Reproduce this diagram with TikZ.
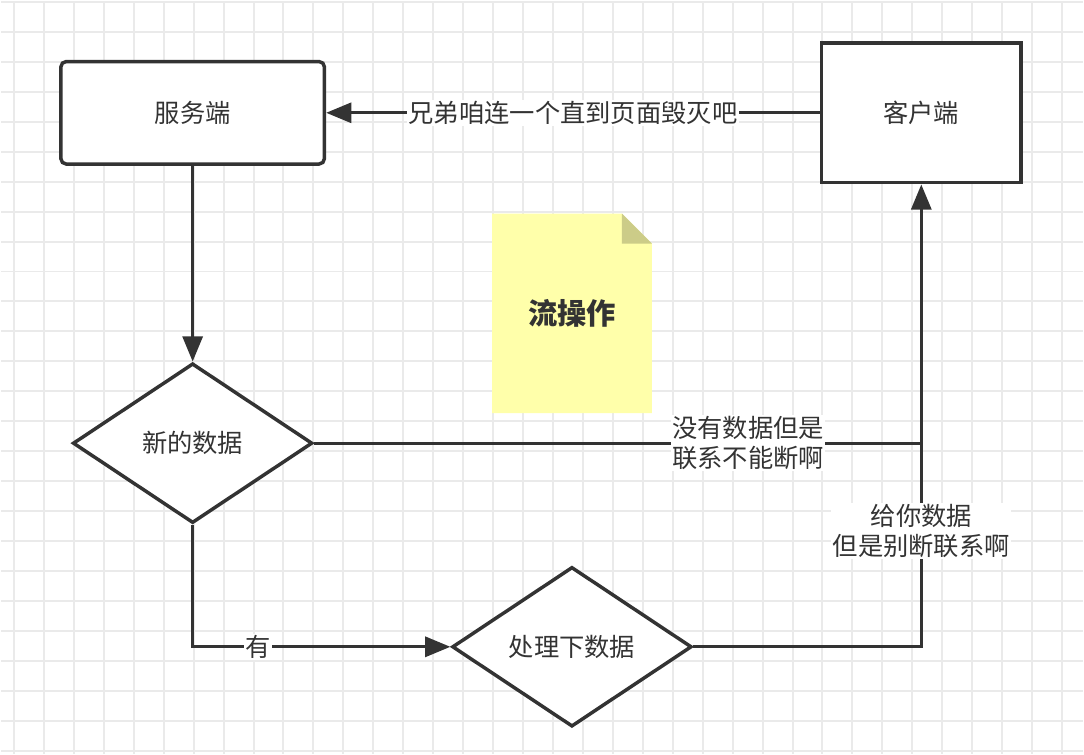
\documentclass[tikz,border=0pt]{standalone}
\usepackage{fontspec}
\newfontfamily\cjk{Noto Sans CJK SC}
\usetikzlibrary{arrows.meta,shapes.geometric,positioning}
\definecolor{ink}{RGB}{51,51,51}
\definecolor{gridgray}{RGB}{234,234,234}
\definecolor{notefill}{RGB}{255,255,170}
\definecolor{notefold}{RGB}{204,204,136}

\begin{document}
\begin{tikzpicture}[x=0.75pt, y=-0.75pt,
    box/.style={draw=ink, line width=2.6pt, fill=white, text=ink, font=\cjk\fontsize{19}{23}\selectfont},
    dec/.style={box, diamond, aspect=1.5, minimum width=180pt, minimum height=120pt, inner sep=0pt},
    lbl/.style={fill=white, text=ink, align=center, inner sep=1pt, font=\cjk\fontsize{19}{22.5}\selectfont},
    wire/.style={draw=ink, line width=2.5pt},
    arr/.style={wire, -{Triangle[length=19pt, width=15pt]}}
]
% background grid
\fill[white] (0,0) rectangle (1084,754);
\foreach \x in {13,43,...,1084} \draw[gridgray, line width=1.5pt] (\x,0) -- (\x,754);
\foreach \y in {1,31,...,754} \draw[gridgray, line width=1.5pt] (0,\y) -- (1084,\y);
\useasboundingbox (0,0) rectangle (1084,754);

% note
\fill[notefill] (492,213) -- (622,213) -- (652,243) -- (652,413) -- (492,413) -- cycle;
\fill[notefold] (622,213) -- (622,243) -- (652,243) -- cycle;
\node[text=ink, font=\cjk\bfseries\fontsize{22}{26}\selectfont] (note) at (572,313) {流操作};

% nodes
\node[box, rounded corners=4pt, minimum width=198pt, minimum height=77pt] (server) at (192,112) {服务端};
\node[box, minimum width=150pt, minimum height=105pt] (client) at (922,112) {客户端};
\node[dec] (check) at (192,443) {新的数据};
\node[dec] (proc) at (572,647) {处理下数据};

% connectors
\draw[arr] (client) -- node[lbl, pos=0.5]{兄弟咱连一个直到页面毁灭吧} (server);
\draw[arr] (server) -- (check);
\draw[wire] (check.east) -- node[lbl, pos=0.715]{没有数据但是\\联系不能断啊} (check.east -| client.south);
\draw[arr] (check.south) |- node[lbl, pos=0.627]{有} (proc.west);
\draw[arr] (proc.east) -| node[lbl, pos=0.625]{给你数据\\但是别断联系啊} (client.south);
\end{tikzpicture}
\end{document}
